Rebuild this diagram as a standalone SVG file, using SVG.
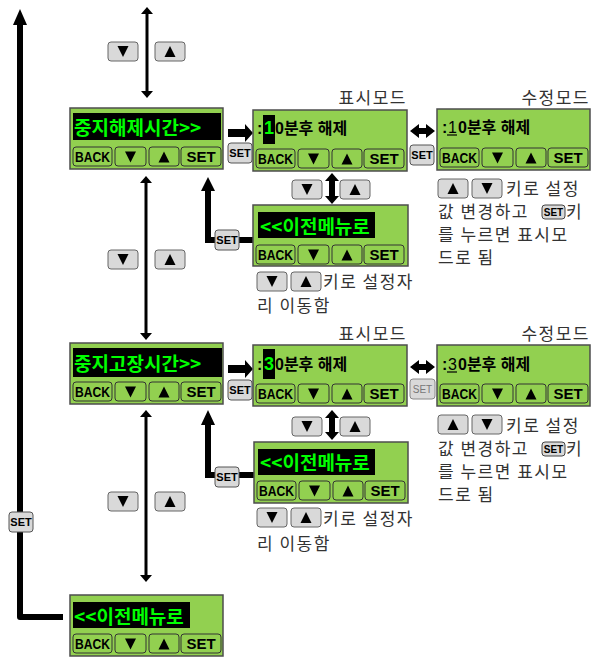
<svg xmlns="http://www.w3.org/2000/svg" xmlns:xlink="http://www.w3.org/1999/xlink" width="593" height="659" viewBox="0 0 593 659">
<style>
.lcd{fill:#92d050;stroke:#4d4d4d;stroke-width:1.5}
.disp{fill:#000}
.lb{fill:#92d050;stroke:#333;stroke-width:1}
.key{fill:#d9d9d9;stroke:#666;stroke-width:1}
.tri{fill:#000}
.btxt{font-family:"Liberation Sans",Arial,sans-serif;font-size:15px;font-weight:bold;fill:#000}
.gt{font-family:"Noto Sans CJK KR",sans-serif;font-size:19px;font-weight:bold;fill:#00ff00}
.vt{font-family:"Liberation Sans","Noto Sans CJK KR",sans-serif;font-size:16px;font-weight:bold;fill:#000}
.lbl{font-family:"Noto Sans CJK KR",sans-serif;font-size:17px;fill:#333;letter-spacing:1.5px}
.desc{font-family:"Noto Sans CJK KR",sans-serif;font-size:17px;fill:#333;letter-spacing:1.5px}
.st{font-family:"Liberation Sans",Arial,sans-serif;font-weight:bold;font-size:11px;fill:#000}
.stg{font-family:"Liberation Sans",Arial,sans-serif;font-size:10px;fill:#777}
.thick{stroke:#000;fill:none;stroke-width:6}
.thin{stroke:#000;fill:none;stroke-width:3}
.head{fill:#000}
</style>
<defs>
<g id="row">
<rect class="lb" x="3" y="39" width="39" height="19" rx="3"/>
<text class="btxt" x="5" y="54" textLength="35" lengthAdjust="spacingAndGlyphs">BACK</text>
<rect class="lb" x="45" y="39" width="31" height="19" rx="3"/>
<polygon class="tri" points="55,43.5 66,43.5 60.5,54.5"/>
<rect class="lb" x="79" y="39" width="30" height="19" rx="3"/>
<polygon class="tri" points="88.5,54.5 99.5,54.5 94,43.5"/>
<rect class="lb" x="111" y="39" width="40" height="19" rx="3"/>
<text class="btxt" x="131" y="54" text-anchor="middle">SET</text>
</g>
<g id="kdn">
<rect class="key" x="0" y="0" width="30" height="19" rx="3"/>
<polygon class="tri" points="9.5,4 20.5,4 15,15"/>
</g>
<g id="kup">
<rect class="key" x="0" y="0" width="30" height="19" rx="3"/>
<polygon class="tri" points="9.5,15 20.5,15 15,4"/>
</g>
<g id="seticon">
<rect class="key" x="0" y="0" width="24" height="20" rx="3" style="stroke:#555"/>
<text class="st" x="12" y="14" text-anchor="middle">SET</text>
</g>
<g id="seticon-s">
<rect class="key" x="0" y="0" width="23" height="14" rx="3" style="stroke:#444"/>
<text class="st" x="11.5" y="11" text-anchor="middle" style="font-size:10px">SET</text>
</g>
</defs>

<g id="connectors">
<path class="thick" d="M63,617 H20 V24" stroke-linejoin="round"/>
<polygon class="head" points="13,25 27,25 20,9"/>
<use xlink:href="#seticon" x="9" y="512"/>

<line class="thin" x1="147" y1="12" x2="147" y2="93"/>
<polygon class="head" points="141,14 153,14 147,7"/>
<polygon class="head" points="141,91 153,91 147,98"/>
<use xlink:href="#kdn" x="108" y="42"/>
<use xlink:href="#kup" x="155" y="42"/>

<polygon class="head" points="228,129 245,129 245,124 253,133 245,142 245,137 228,137"/>
<use xlink:href="#seticon" x="228" y="143"/>

<polygon class="head" points="410,131 419,124 419,128 426,128 426,124 435,131 426,138 426,134 419,134 419,138"/>
<use xlink:href="#seticon" x="410" y="145"/>

<polygon class="head" points="332,173 339,181 335,181 335,196 339,196 332,204 325,196 329,196 329,181 325,181"/>
<use xlink:href="#kdn" x="292" y="180"/>
<use xlink:href="#kup" x="340" y="180"/>

<path class="thick" d="M253,240 H208 V189"/>
<polygon class="head" points="201,191 215,191 208,177"/>
<use xlink:href="#seticon" x="215" y="230"/>

<line class="thin" x1="146" y1="181" x2="146" y2="335"/>
<polygon class="head" points="140,183 152,183 146,176"/>
<polygon class="head" points="140,333 152,333 146,340"/>
<use xlink:href="#kdn" x="108" y="250"/>
<use xlink:href="#kup" x="155" y="250"/>

<polygon class="head" points="228,365 245,365 245,360 253,369 245,378 245,373 228,373"/>
<use xlink:href="#seticon" x="228" y="380"/>

<polygon class="head" points="410,367 419,360 419,364 426,364 426,360 435,367 426,374 426,370 419,370 419,374"/>
<rect class="key" x="410" y="379" width="25" height="20" rx="3" style="stroke:#888"/>
<text class="stg" x="422.5" y="393" text-anchor="middle">SET</text>

<polygon class="head" points="332,410 339,418 335,418 335,432 339,432 332,440 325,432 329,432 329,418 325,418"/>
<use xlink:href="#kdn" x="292" y="417"/>
<use xlink:href="#kup" x="340" y="417"/>

<path class="thick" d="M254,475 H208 V423"/>
<polygon class="head" points="201,425 215,425 208,410"/>
<use xlink:href="#seticon" x="215" y="467"/>

<line class="thin" x1="146" y1="415" x2="146" y2="577"/>
<polygon class="head" points="140,417 152,417 146,410"/>
<polygon class="head" points="140,575 152,575 146,582"/>
<use xlink:href="#kdn" x="108" y="492"/>
<use xlink:href="#kup" x="155" y="492"/>
</g>

<g id="node-stop-release-time">
<rect class="lcd" x="70" y="108" width="153" height="61"/>
<rect class="disp" x="73" y="113" width="148" height="27"/>
<text class="gt" x="74" y="135">중지해제시간&gt;&gt;</text>
<use xlink:href="#row" x="70" y="108"/>
</g>

<g id="node-display-mode-1">
<text class="lbl" x="407" y="104" text-anchor="end">표시모드</text>
<rect class="lcd" x="253" y="110" width="154" height="61"/>
<rect class="disp" x="263" y="115" width="12" height="29"/>
<text class="vt" y="134"><tspan x="257">:</tspan><tspan x="264" fill="#00ff00" font-size="18">1</tspan><tspan x="275">0분후 해제</tspan></text>
<use xlink:href="#row" x="253" y="110"/>
</g>

<g id="node-edit-mode-1">
<text class="lbl" x="590" y="104" text-anchor="end">수정모드</text>
<rect class="lcd" x="437" y="109" width="153" height="61"/>
<text class="vt" y="133"><tspan x="442">:</tspan><tspan x="448" font-weight="normal">1</tspan><tspan x="458">0분후 해제</tspan></text>
<line x1="447" y1="135" x2="457" y2="135" stroke="#000" stroke-width="1.2"/>
<use xlink:href="#row" x="437" y="109"/>
</g>

<g id="note-edit-1">
<use xlink:href="#kup" x="438" y="179"/>
<use xlink:href="#kdn" x="472" y="179"/>
<text class="desc" x="506" y="195">키로 설정</text>
<text class="desc" x="438" y="218">값 변경하고</text>
<use xlink:href="#seticon-s" x="542" y="205"/>
<text class="desc" x="566" y="218">키</text>
<text class="desc" x="438" y="241">를 누르면 표시모</text>
<text class="desc" x="438" y="264">드로 됨</text>
</g>

<g id="node-prev-menu-1">
<rect class="lcd" x="253" y="205" width="155" height="61"/>
<rect class="disp" x="258" y="212" width="117" height="26"/>
<text class="gt" x="260" y="234">&lt;&lt;이전메뉴로</text>
<use xlink:href="#row" x="253" y="206"/>
</g>

<g id="note-move-1">
<use xlink:href="#kdn" x="257" y="272"/>
<use xlink:href="#kup" x="291" y="272"/>
<text class="desc" x="323" y="288">키로 설정자</text>
<text class="desc" x="257" y="312">리 이동함</text>
</g>

<g id="node-stop-fault-time">
<rect class="lcd" x="70" y="343" width="153" height="61"/>
<rect class="disp" x="73" y="348" width="149" height="29"/>
<text class="gt" x="74" y="371">중지고장시간&gt;&gt;</text>
<use xlink:href="#row" x="70" y="343"/>
</g>

<g id="node-display-mode-2">
<text class="lbl" x="407" y="340" text-anchor="end">표시모드</text>
<rect class="lcd" x="253" y="345" width="154" height="61"/>
<rect class="disp" x="263" y="349" width="12" height="30"/>
<text class="vt" y="370"><tspan x="257">:</tspan><tspan x="264" fill="#00ff00" font-size="18">3</tspan><tspan x="275">0분후 해제</tspan></text>
<use xlink:href="#row" x="253" y="345"/>
</g>

<g id="node-edit-mode-2">
<text class="lbl" x="590" y="340" text-anchor="end">수정모드</text>
<rect class="lcd" x="437" y="345" width="153" height="61"/>
<text class="vt" y="370"><tspan x="442">:</tspan><tspan x="448" font-weight="normal">3</tspan><tspan x="458">0분후 해제</tspan></text>
<line x1="447" y1="372" x2="457" y2="372" stroke="#000" stroke-width="1.2"/>
<use xlink:href="#row" x="437" y="345"/>
</g>

<g id="note-edit-2">
<use xlink:href="#kup" x="438" y="415"/>
<use xlink:href="#kdn" x="472" y="415"/>
<text class="desc" x="506" y="432">키로 설정</text>
<text class="desc" x="438" y="455">값 변경하고</text>
<use xlink:href="#seticon-s" x="542" y="442"/>
<text class="desc" x="566" y="455">키</text>
<text class="desc" x="438" y="478">를 누르면 표시모</text>
<text class="desc" x="438" y="501">드로 됨</text>
</g>

<g id="node-prev-menu-2">
<rect class="lcd" x="254" y="442" width="154" height="61"/>
<rect class="disp" x="258" y="449" width="117" height="26"/>
<text class="gt" x="260" y="470">&lt;&lt;이전메뉴로</text>
<use xlink:href="#row" x="254" y="442"/>
</g>

<g id="note-move-2">
<use xlink:href="#kdn" x="257" y="508"/>
<use xlink:href="#kup" x="291" y="508"/>
<text class="desc" x="323" y="525">키로 설정자</text>
<text class="desc" x="257" y="550">리 이동함</text>
</g>

<g id="node-prev-menu-main">
<rect class="lcd" x="70" y="595" width="153" height="61"/>
<rect class="disp" x="73" y="602" width="117" height="26"/>
<text class="gt" x="74" y="624">&lt;&lt;이전메뉴로</text>
<use xlink:href="#row" x="70" y="595"/>
</g>
</svg>
